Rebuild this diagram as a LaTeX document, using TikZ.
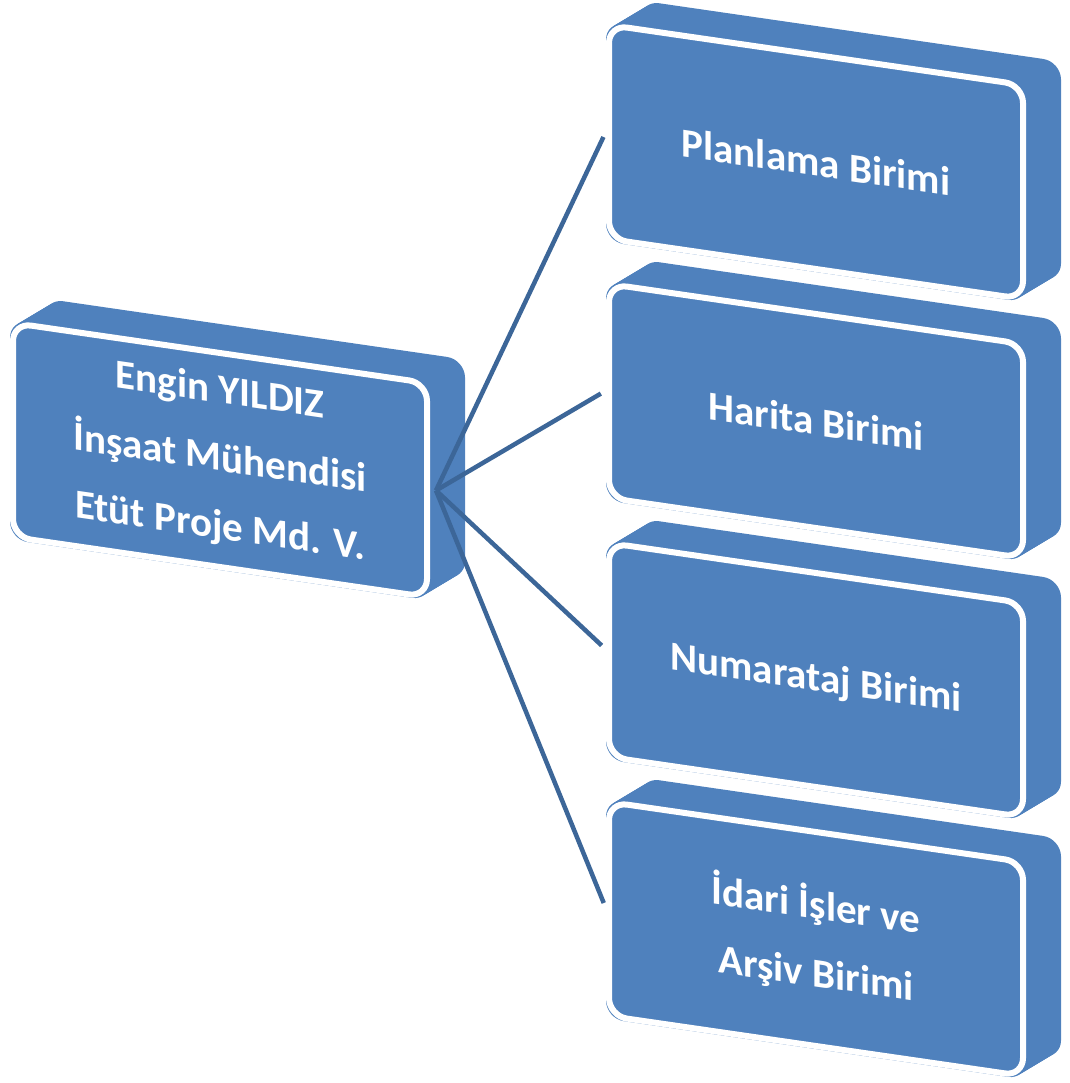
\documentclass[tikz,border=0pt]{standalone}
\usepackage{fontspec}
\setmainfont{Carlito}
\definecolor{boxblue}{RGB}{79,129,189}
\definecolor{linkblue}{RGB}{60,102,152}
\tikzset{
      box/.style={rectangle, rounded corners=18pt, fill=boxblue, draw=white, line width=6pt,
            minimum width=414pt, minimum height=214pt, inner sep=0pt, text=white, align=center,
            font=\fontsize{41}{68}\selectfont\bfseries, transform shape},
      back/.style={fill=boxblue, rounded corners=18pt},
      link/.style={draw=linkblue, line width=4.5pt, shorten >=6pt},
}

\begin{document}
\begin{tikzpicture}[x=1pt,y=1pt]
        \useasboundingbox (0,0) rectangle (1069,-1083);

        % Draw the manager box
        \begin{scope}[shift={(220,-460)}, yslant=-0.145]
            \foreach \t in {0,0.05,...,1.01} \fill[back] (35*\t-210,26*\t-110) rectangle ++(420,220);
            \node[box] (mgr) at (0,0) {Engin YILDIZ\\İnşaat Mühendisi\\Etüt Proje Md. V.};
        \end{scope}

        % Draw the units
        \begin{scope}[shift={(816,-162)}, yslant=-0.145]
            \foreach \t in {0,0.05,...,1.01} \fill[back] (35*\t-210,26*\t-110) rectangle ++(420,220);
            \node[box] (plan) at (0,0) {Planlama Birimi};
        \end{scope}
        \begin{scope}[shift={(816,-421)}, yslant=-0.145]
            \foreach \t in {0,0.05,...,1.01} \fill[back] (35*\t-210,26*\t-110) rectangle ++(420,220);
            \node[box] (harita) at (0,0) {Harita Birimi};
        \end{scope}
        \begin{scope}[shift={(816,-680)}, yslant=-0.145]
            \foreach \t in {0,0.05,...,1.01} \fill[back] (35*\t-210,26*\t-110) rectangle ++(420,220);
            \node[box] (numara) at (0,0) {Numarataj Birimi};
        \end{scope}
        \begin{scope}[shift={(816,-939)}, yslant=-0.145]
            \foreach \t in {0,0.05,...,1.01} \fill[back] (35*\t-210,26*\t-110) rectangle ++(420,220);
            \node[box] (idari) at (0,0) {İdari İşler ve\\Arşiv Birimi};
        \end{scope}

        % Draw the links
        \coordinate (hub) at ([xshift=6pt]mgr.east);
        \draw[link] (hub) -- (plan.west);
        \draw[link] (hub) -- (harita.west);
        \draw[link] (hub) -- (numara.west);
        \draw[link] (hub) -- (idari.west);

\end{tikzpicture}
\end{document}
